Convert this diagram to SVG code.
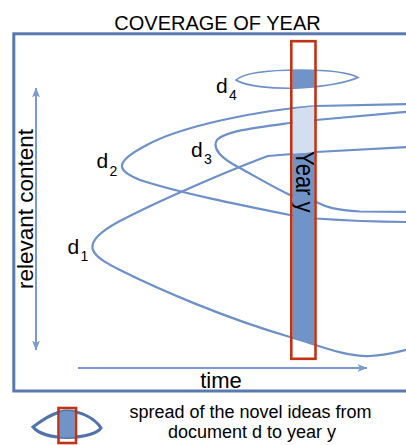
<svg xmlns="http://www.w3.org/2000/svg" width="406" height="445" viewBox="0 0 406 445">
  <defs>
    <style>
      text { font-family: "Liberation Sans", Arial, sans-serif; fill: #000; }
      .curve { fill: none; stroke: #6d90c8; stroke-width: 2.2; stroke-linejoin: round; }
      .thin { fill: none; stroke: #6d90c8; stroke-width: 1.6; }
      .axis { fill: none; stroke: #7b9bd0; stroke-width: 2; }
      .year { fill: none; stroke: #bf3417; stroke-width: 2.6; }
      .dark { fill: #7094c8; }
      .light { fill: #d3dff1; }
      .lbl { font-size: 21px; }
      .sub { font-size: 14px; }
    </style>
    <marker id="tip" markerUnits="userSpaceOnUse" markerWidth="10" markerHeight="8" refX="9.5" refY="4" orient="auto-start-reverse" viewBox="0 0 10 8">
      <path d="M0,0 L10,4 L0,8 L2.5,4 z" fill="#7b9bd0"/>
    </marker>
    <clipPath id="colClip"><rect x="292.5" y="42.5" width="21.8" height="315"/></clipPath>
    <clipPath id="legClip"><rect x="59.8" y="409.3" width="15" height="33"/></clipPath>
  </defs>

  <rect width="406" height="445" fill="#fff"/>

  <text id="title" x="217.5" y="30" font-size="20" text-anchor="middle">COVERAGE OF YEAR</text>

  <!-- plot frame, open to the right -->
  <rect id="frame" x="13.8" y="33.8" width="420" height="357.2" fill="none" stroke="#5a79ae" stroke-width="3"/>

  <g id="connectors">
    <!-- document curves -->
    <path id="d1-curve" class="curve" d="M410,147 L316,152 L268,156 C230,170 160,200 118,222 C98,233 90,242 93,250 C96,258 110,265 120,270 C160,290 225,318 290,337 C318,345 345,357 370,356 C390,355 400,351 410,349"/>
    <path id="d2-curve" class="curve" d="M410,104 L316,106 C260,110 180,126 145,146 C128,155 121,162 122,167 C123,172 130,176 140,180 C180,193 240,205 290,215 L316,218.5 C350,221 380,222 410,222"/>
    <path id="d3-curve" class="curve" d="M410,111.5 C370,115 340,118 316,120 L290,123 C260,127 225,131 217,140 C212,148 220,158 240,168 C258,178 275,188 290,195 L316,202 C326,207 335,210 360,211.5 L410,212"/>
    <path id="d4-curve" class="thin" d="M236,80 C245,72 270,70 300,70 C330,70 350,73 358,77.5 C350,81 330,86 300,88 C270,89 245,86 236,80 Z"/>
    <!-- axes -->
    <line id="content-axis" class="axis" x1="36" y1="88" x2="36" y2="350" marker-start="url(#tip)" marker-end="url(#tip)"/>
    <line id="time-axis" class="axis" x1="78" y1="368" x2="367" y2="368" marker-end="url(#tip)"/>
  </g>

  <text id="content-label" transform="translate(33,209) rotate(-90)" font-size="22.5" text-anchor="middle">relevant content</text>
  <text id="time-label" x="221" y="388" font-size="22" text-anchor="middle">time</text>

  <g id="d1"><text class="lbl" x="67.5" y="254">d</text><text class="sub" x="80.5" y="261">1</text></g>
  <g id="d2"><text class="lbl" x="96.5" y="168">d</text><text class="sub" x="109.5" y="176">2</text></g>
  <g id="d3"><text class="lbl" x="191" y="156.5">d</text><text class="sub" x="204" y="163.5">3</text></g>
  <g id="d4"><text class="lbl" x="216" y="93">d</text><text class="sub" x="229" y="99.5">4</text></g>

  <!-- the year column: coverage fills, label and outline -->
  <g id="year-column">
    <g clip-path="url(#colClip)">
      <path class="dark" d="M236,80 C245,72 270,70 300,70 C330,70 350,73 358,77.5 C350,81 330,86 300,88 C270,89 245,86 236,80 Z"/>
      <polygon class="light" points="290,109.5 318,105.8 318,152 290,154.2"/>
      <polygon class="dark" points="290,154.2 318,152 318,346 304,341.5 290,337"/>
    </g>
    <text transform="translate(296,151) rotate(90) scale(1.1,1.3)" font-size="20">Year y</text>
    <rect class="year" x="291.3" y="41.2" width="24.2" height="317.6"/>
  </g>

  <!-- legend -->
  <g id="legend">
    <path d="M33,427 C45,418 56,411 67,411 C80,411 95,418 101,428 C98,433 85,437 67,437.5 C50,437.5 38,433 33,427 Z" fill="none" stroke="#5173aa" stroke-width="3"/>
    <path class="dark" clip-path="url(#legClip)" d="M33,427 C45,418 56,411 67,411 C80,411 95,418 101,428 C98,433 85,437 67,437.5 C50,437.5 38,433 33,427 Z"/>
    <rect x="58.5" y="408" width="17.5" height="35" fill="none" stroke="#bf3417" stroke-width="2.6"/>
    <text x="250.5" y="418" font-size="18" text-anchor="middle">spread of the novel ideas from</text>
    <text x="252" y="438" font-size="18" text-anchor="middle">document d to year y</text>
  </g>
</svg>
